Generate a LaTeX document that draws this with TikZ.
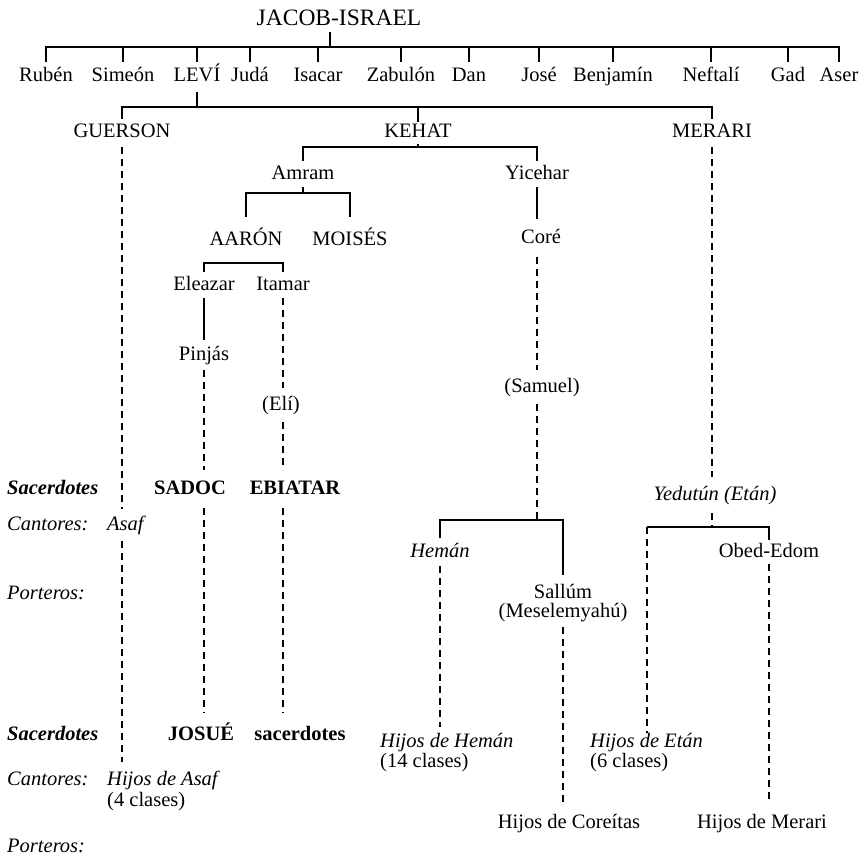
\documentclass[tikz,border=0pt]{standalone}
\usepackage{fontspec}
\setmainfont{Liberation Serif}
\newcommand\dfont{\fontsize{20.5}{19}\selectfont}
\begin{document}
\begin{tikzpicture}[x=1pt,y=-1pt,
  every node/.style={inner sep=0pt, text height=14pt, text depth=4pt, font=\dfont, outer ysep=5pt},
  T/.style={anchor=base},
  L/.style={anchor=base west},
  sub/.style={text height=11pt, text depth=4pt},
  it/.style={font=\dfont\itshape},
  bf/.style={font=\dfont\bfseries},
  bi/.style={font=\dfont\bfseries\itshape},
  sol/.style={line width=1.1pt},
  dsh/.style={line width=1.1pt, dash pattern=on 7pt off 5pt},
]
\useasboundingbox (0,0) rectangle (867,856);

% --- Jacob and sons
\node[T, outer ysep=2pt, font=\fontsize{23.5}{26}\selectfont, text height=16pt] (jacob) at (339,26) {JACOB-ISRAEL};
\foreach \n/\x/\t in {rub/46/Rubén, sim/123/Simeón, levi/197/LEVÍ, juda/250/Judá, isa/318/Isacar, zab/401/Zabulón, dan/469/Dan, jose/539/José, ben/613/Benjamín, nef/711/Neftalí, gad/788/Gad, aser/839/Aser}
  \node[T, outer ysep=6pt] (\n) at (\x,82) {\t};
\coordinate (b1) at (330,47);
\draw[sol] (jacob.south -| b1) -- (b1);
\draw[sol] (rub.north) |- (b1) -| (aser.north);
\foreach \n in {sim,levi,juda,isa,zab,dan,jose,ben,nef,gad}
  \draw[sol] (\n.north |- b1) -- (\n.north);

% --- Levi
\node[T] (guer) at (122,138) {GUERSON};
\node[T, outer ysep=2pt] (kehat) at (418,138) {KEHAT};
\node[T] (merari) at (712,138) {MERARI};
\coordinate (b2) at (197,107);
\draw[sol] (levi.south) -- (b2);
\draw[sol] (guer.north) |- (b2) -| (merari.north);
\draw[sol] (kehat.north |- b2) -- (kehat.north);

% --- Kehat
\node[T, outer ysep=4pt] (amram) at (303,179) {Amram};
\node[T, outer ysep=4pt] (yicehar) at (537,179) {Yicehar};
\coordinate (b3) at (418,147);
\draw[sol] (kehat.south) -- (b3);
\draw[sol] (amram.north) |- (b3) -| (yicehar.north);

% --- Amram
\node[T, outer ysep=14pt] (aaron) at (246,245) {AARÓN};
\node[T, outer ysep=14pt] (moises) at (350,245) {MOISÉS};
\coordinate (b4) at (303,193);
\draw[sol] (amram.south) -- (b4);
\draw[sol] (aaron.north) |- (b4) -| (moises.north);

% --- Aaron's sons
\node[T, outer ysep=4pt] (eleazar) at (204,290) {Eleazar};
\node[T, outer ysep=4pt] (itamar) at (283,290) {Itamar};
\coordinate (b5) at (243,263);
\draw[sol] (eleazar.north) |- (b5) -| (itamar.north);
\node[T, outer ysep=6pt] (pinjas) at (204,360) {Pinjás};
\node[T, outer ysep=8pt] (eli) at (281,410) {(Elí)};
\draw[sol] (eleazar.south) -- (pinjas.north);
\draw[dsh] (itamar.south) -- (itamar.south |- eli.north);
\node[T, bf, outer ysep=10pt] (sadoc) at (190,494) {SADOC};
\node[T, bf, outer ysep=10pt] (ebiatar) at (295,494) {EBIATAR};
\node[T, bf, outer ysep=13pt] (josue) at (201,740) {JOSUÉ};
\node[T, bf, outer ysep=13pt] (sacer) at (300,740) {sacerdotes};
\draw[dsh] (pinjas.south) -- (pinjas.south |- sadoc.north);
\draw[dsh] (itamar.south |- eli.south) -- (itamar.south |- ebiatar.north);
\draw[dsh] (pinjas.south |- sadoc.south) -- (pinjas.south |- josue.north);
\draw[dsh] (itamar.south |- ebiatar.south) -- (itamar.south |- sacer.north);

% --- left labels
\node[L, bi] (sac1) at (7,494) {Sacerdotes};
\node[L, it] (can1) at (7,530) {Cantores:};
\node[L, it, outer ysep=7pt] (asaf) at (107,530) {Asaf};
\node[L, it] (por1) at (7,599) {Porteros:};
\node[L, bi] (sac2) at (7,740) {Sacerdotes};
\node[L, it] (can2) at (7,785) {Cantores:};
\node[L, it, outer ysep=9pt] (hasaf) at (107,785) {Hijos de Asaf};
\node[L, sub] (hasafb) at (107,806) {(4 clases)};
\node[L, it] (por2) at (7,852) {Porteros:};
\draw[dsh] (guer.south) -- (guer.south |- asaf.north);
\draw[dsh] (guer.south |- asaf.south) -- (guer.south |- hasaf.north);

% --- Yicehar line
\node[T, outer ysep=10pt] (core) at (541,243) {Coré};
\node[T, outer ysep=8pt] (samuel) at (542,392) {(Samuel)};
\draw[sol] (yicehar.south) -- (yicehar.south |- core.north);
\draw[dsh] (yicehar.south |- core.south) -- (yicehar.south |- samuel.north);
\coordinate (b6) at (537,520);
\draw[dsh] (yicehar.south |- samuel.south) -- (b6);
\node[T, it, outer ysep=5pt] (heman) at (440,557) {Hemán};
\node[T, outer ysep=9pt] (sallum) at (563,598) {Sallúm};
\node[T, sub, outer ysep=6pt] (mesel) at (563,617) {(Meselemyahú)};
\draw[sol] (heman.north) |- (b6) -| (sallum.north);
\node[L, it, outer ysep=6pt] (hheman) at (380,747) {Hijos de Hemán};
\node[L, sub] (hheman2) at (380,767) {(14 clases)};
\draw[dsh] (heman.south) -- (heman.south |- hheman.north);
\node[T, outer ysep=11pt] (hcor) at (569,828) {Hijos de Coreítas};
\draw[dsh] (mesel.south) -- (mesel.south |- hcor.north);

% --- Merari line
\node[T, it, outer ysep=9pt] (yedu) at (715,500) {Yedutún (Etán)};
\draw[dsh] (merari.south) -- (merari.south |- yedu.north);
\coordinate (b7) at (712,527);
\coordinate (e7) at (647,527);
\draw[dsh] (merari.south |- yedu.south) -- (b7);
\node[T, outer ysep=3pt] (obed) at (769,557) {Obed-Edom};
\draw[sol] (e7) -| (obed.north);
\node[L, it, outer ysep=0pt] (hetan) at (590,747) {Hijos de Etán};
\node[L, sub] (hetan2) at (590,767) {(6 clases)};
\draw[dsh] (e7) -- (e7 |- hetan.north);
\node[T, outer ysep=11pt] (hmer) at (762,828) {Hijos de Merari};
\draw[dsh] (obed.south) -- (obed.south |- hmer.north);
\end{tikzpicture}
\end{document}
